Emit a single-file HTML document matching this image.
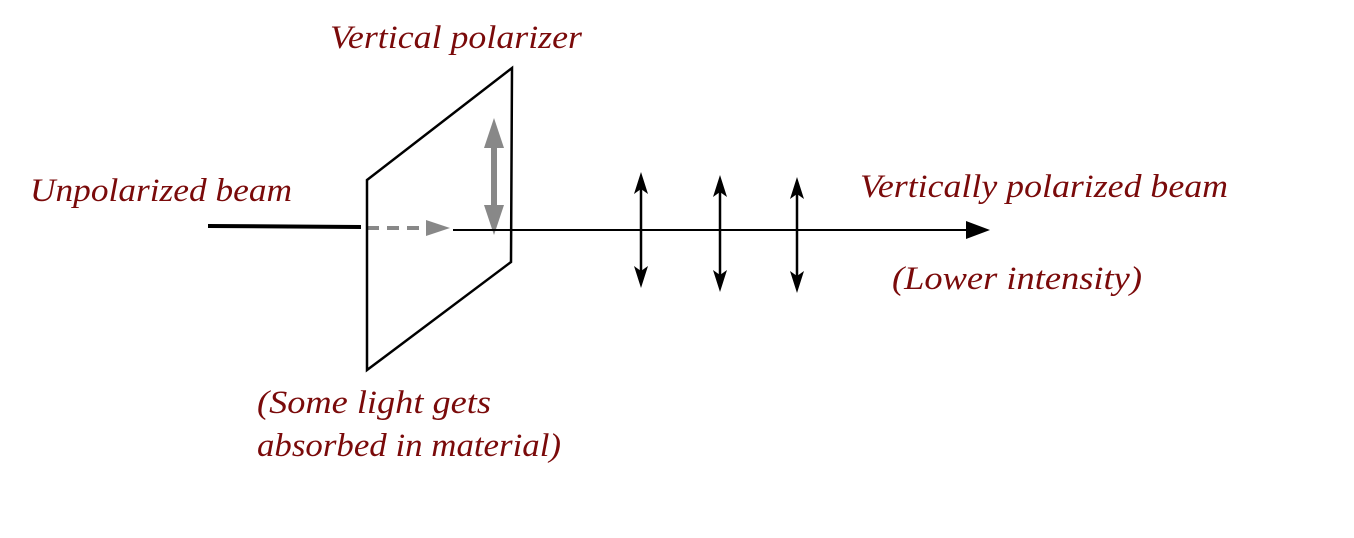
<!DOCTYPE html>
<html><head><meta charset="utf-8"><style>
html,body{margin:0;padding:0;background:#fff;}
svg{display:block;}
text{font-family:"Liberation Serif",serif;font-style:italic;font-size:33px;fill:#7a0a0a;}
</style></head><body>
<svg width="1354" height="538" viewBox="0 0 1354 538">
  <text x="330" y="48" textLength="252" lengthAdjust="spacingAndGlyphs">Vertical polarizer</text>
  <text x="30" y="201" textLength="262" lengthAdjust="spacingAndGlyphs">Unpolarized beam</text>
  <text x="860" y="197" textLength="368" lengthAdjust="spacingAndGlyphs">Vertically polarized beam</text>
  <text x="892" y="289" textLength="250" lengthAdjust="spacingAndGlyphs">(Lower intensity)</text>
  <text x="257" y="413" textLength="234" lengthAdjust="spacingAndGlyphs">(Some light gets</text>
  <text x="257" y="456" textLength="304" lengthAdjust="spacingAndGlyphs">absorbed in material)</text>

  <line x1="208" y1="226" x2="361" y2="227" stroke="#000" stroke-width="4"/>
  <g>
    <line x1="367" y1="228" x2="430" y2="228" stroke="#888" stroke-width="4" stroke-dasharray="12,8"/>
    <polygon points="426,220 450,228 426,236" fill="#888"/>
  </g>
  <polygon points="367,180 512,68 511,262 367,370" fill="none" stroke="#000" stroke-width="2.5"/>
  <g>
    <line x1="494" y1="140" x2="494" y2="212" stroke="#888" stroke-width="6"/>
    <polygon points="484,148 494,118 504,148" fill="#888"/>
    <polygon points="484,205 494,235 504,205" fill="#888"/>
  </g>
  <g>
    <line x1="453" y1="230" x2="972" y2="230" stroke="#000" stroke-width="2"/>
    <polygon points="966,221 990,230 966,239" fill="#000"/>
  </g>
  <g>
    <line x1="641" y1="180" x2="641" y2="280" stroke="#000" stroke-width="2.5"/>
    <polygon points="634,194 641,172 648,194 641,189" fill="#000"/>
    <polygon points="634,266 641,288 648,266 641,271" fill="#000"/>
  </g>
  <g>
    <line x1="720" y1="183" x2="720" y2="284" stroke="#000" stroke-width="2.5"/>
    <polygon points="713,197 720,175 727,197 720,192" fill="#000"/>
    <polygon points="713,270 720,292 727,270 720,275" fill="#000"/>
  </g>
  <g>
    <line x1="797" y1="185" x2="797" y2="285" stroke="#000" stroke-width="2.5"/>
    <polygon points="790,199 797,177 804,199 797,194" fill="#000"/>
    <polygon points="790,271 797,293 804,271 797,276" fill="#000"/>
  </g>
</svg>
</body></html>
